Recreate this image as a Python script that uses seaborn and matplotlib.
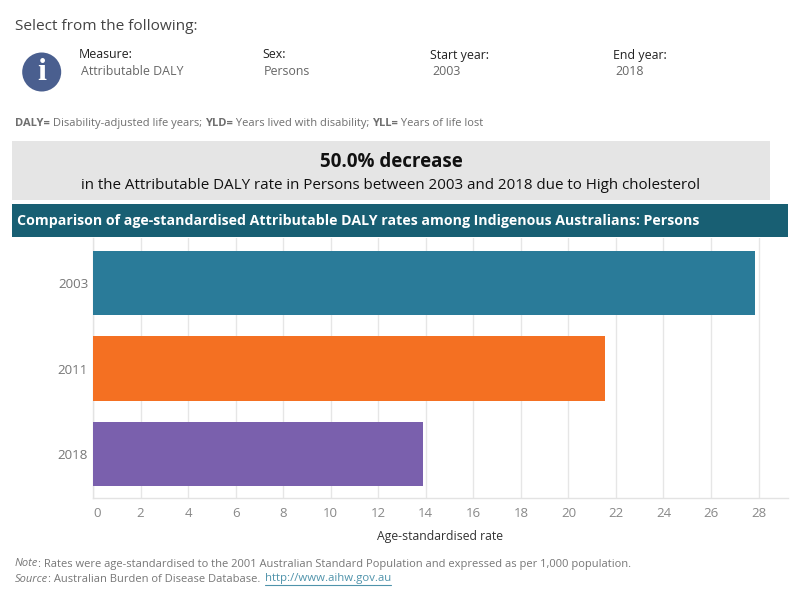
import matplotlib
matplotlib.use("Agg")
import matplotlib.pyplot as plt
from matplotlib.patches import Rectangle, Circle
import pandas as pd
import seaborn as sns

years = ["2003", "2011", "2018"]
rates = [27.85, 21.55, 13.88]
bar_colors = ["#2a7b99", "#f47022", "#7a60ad"]
x_ticks = list(range(0, 30, 2))

sns.set_theme(style="white")
plt.rcParams["font.family"] = ["Open Sans", "DejaVu Sans"]

W, H = 800, 600
fig = plt.figure(figsize=(W / 100, H / 100), dpi=100, facecolor="white")
renderer = fig.canvas.get_renderer()


def fx(px):
    return px / W


def fy(px):
    return 1 - px / H


def label(px, py, s, size=9, color="#555555", **kw):
    kw.setdefault("va", "center")
    return fig.text(fx(px), fy(py + 1.5), s, fontsize=size, color=color, **kw)


def run(px, py, pieces, size, color):
    """Lay out differently styled pieces of text one after another."""
    for s, style in pieces:
        t = label(px, py, s.replace(" ", "\u00a0"), size, color, **style)
        px += t.get_window_extent(renderer).width
    return px


def band(x0, y0, x1, y1, color):
    fig.add_artist(Rectangle((fx(x0), fy(y1)), (x1 - x0) / W, (y1 - y0) / H,
                             transform=fig.transFigure, facecolor=color,
                             edgecolor="none"))


# Selector area
label(15, 24.5, "Select from the following:", 11.1, "#444444")
for x, head, val in [(79, "Measure:", "Attributable DALY"), (262, "Sex:", "Persons"),
                     (430, "Start year:", "2003"), (613, "End year:", "2018")]:
    label(x, 53.5, head, 8.9, "#222222")
    label(x + 2, 70, val, 8.9, "#666666")

# Info badge
bg = fig.add_axes([0, 0, 1, 1], zorder=-1)
bg.set_xlim(0, W)
bg.set_ylim(H, 0)
bg.axis("off")
bg.add_patch(Circle((41.7, 72), 19.5, facecolor="#4a5f8f", edgecolor="none"))
bg.text(41.7, 72.5, "i", fontsize=23, fontweight="bold", color="white",
        family="Liberation Serif", ha="center", va="center")

# Abbreviation key
bold, plain = {"fontweight": "bold"}, {}
run(15, 122, [("DALY=", bold), (" Disability-adjusted life years; ", plain),
              ("YLD=", bold), (" Years lived with disability; ", plain),
              ("YLL=", bold), (" Years of life lost", plain)], 8.05, "#6f6f6f")

# Summary banner
band(12, 141, 770, 200, "#e5e5e5")
label(391, 161, "50.0% decrease", 13.5, "#111111", ha="center", fontweight="bold")
label(391, 184, "in the Attributable DALY rate in Persons between 2003 and 2018 due to High cholesterol",
      10.9, "#111111", ha="center")

# Chart title strip
band(12, 204, 788, 237, "#185f73")
label(17, 220, "Comparison of age-standardised Attributable DALY rates among Indigenous Australians: Persons",
      10.2, "white", fontweight="bold")

# Bar chart
ax_left, ax_right, ax_top, ax_bottom = 93, 788, 238, 497.7
ax = fig.add_axes([fx(ax_left), fy(ax_bottom), (ax_right - ax_left) / W,
                   (ax_bottom - ax_top) / H], facecolor="none")
frame = pd.DataFrame({"year": years, "rate": rates})
sns.barplot(data=frame, y="year", x="rate", hue="year", palette=bar_colors,
            order=years, hue_order=years, dodge=False, width=0.75, legend=False,
            saturation=1, linewidth=0, ax=ax, zorder=3)
ax.set_xlim(0, (ax_right - ax_left) / 23.77)
ax.set_ylim(2.51, -0.526)
ax.set_xticks(x_ticks)
ax.set_axisbelow(True)
ax.grid(axis="x", color="#e6e6e6", linewidth=1)
ax.grid(axis="y", visible=False)
for side in ("top", "right"):
    ax.spines[side].set_visible(False)
for side in ("left", "bottom"):
    ax.spines[side].set_color("#e3e3e3")
    ax.spines[side].set_linewidth(1)
ax.tick_params(axis="x", length=3, width=1, color="#e6e6e6", labelsize=9.5,
               labelcolor="#888888", pad=4)
ax.tick_params(axis="y", length=0, labelsize=9.6, labelcolor="#777777", pad=3.5)
ax.set_ylabel("")
ax.set_xlabel("Age-standardised rate", fontsize=8.8, color="#333333", labelpad=7)
ax.xaxis.label.set_x((440 - ax_left) / (ax_right - ax_left))
ax.get_xticklabels()[0].set_ha("left")

# Footnotes
italic = {"style": "italic"}
run(15, 562.5, [("Note", italic),
                (": Rates were age-standardised to the 2001 Australian Standard Population and expressed as per 1,000 population.", plain)],
    8.05, "#777777")
run(15, 577.5, [("Source", italic), (": Australian Burden of Disease Database.", plain)],
    8.05, "#777777")
link = label(264.5, 577.5, "http://www.aihw.gov.au", 8.2, "#4f93ab")
link_width = link.get_window_extent(renderer).width
bg.plot([264.5, 264.5 + link_width], [584.5, 584.5], color="#4f93ab", lw=0.8)

fig.savefig("out.png", dpi=100, facecolor="white")
